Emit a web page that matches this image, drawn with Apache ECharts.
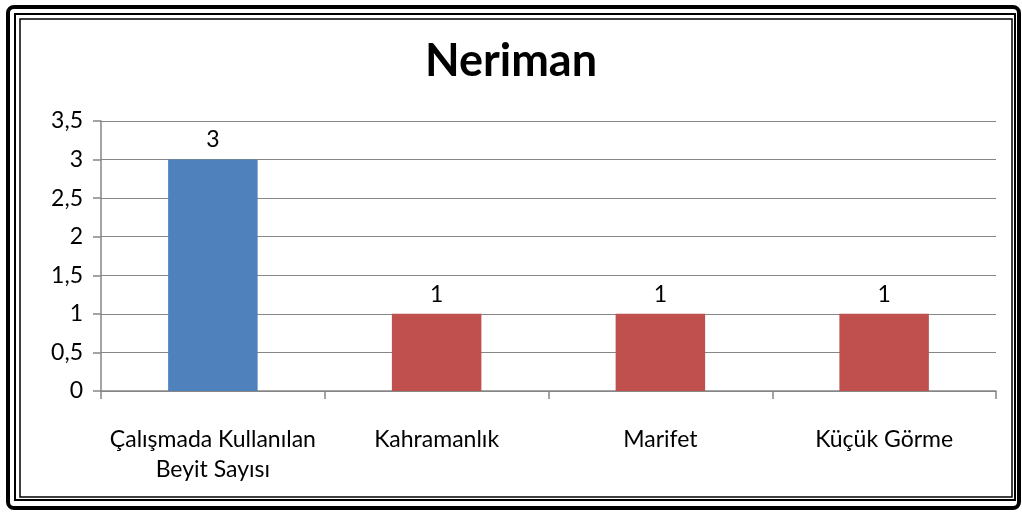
<!DOCTYPE html>
<html>
<head>
<meta charset="utf-8">
<script src="https://cdn.jsdelivr.net/npm/echarts@6/dist/echarts.min.js"></script>
<style>
	html, body { margin: 0; padding: 0; background: #fff; }
	#chart { width: 1022px; height: 513px; }
</style>
</head>
<body>
<div id="chart"></div>
<script>
	var categories = ['Çalışmada Kullanılan\nBeyit Sayısı', 'Kahramanlık', 'Marifet', 'Küçük Görme'];
	var values = [3, 1, 1, 1];
	var barColors = ['#4F81BD', '#C0504D', '#C0504D', '#C0504D'];

	var myChart = echarts.init(document.getElementById('chart'));
	var font = 'Lato, "Open Sans", sans-serif';

	var option = {
		backgroundColor: '#fff',
		animation: false,
		title: {
			text: 'Neriman',
			left: 'center',
			top: 34,
			textStyle: {
				fontFamily: font,
				fontSize: 45,
				fontWeight: 'bold',
				color: '#000'
			}
		},
		graphic: [
			{ type: 'rect', shape: { x: 8, y: 7, width: 1011, height: 501, r: 6 }, style: { fill: 'none', stroke: '#000', lineWidth: 4 } },
			{ type: 'rect', shape: { x: 15, y: 14, width: 1000, height: 486 }, style: { fill: 'none', stroke: '#000', lineWidth: 2 } },
			{ type: 'rect', shape: { x: 20, y: 19, width: 992, height: 478 }, style: { fill: 'none', stroke: '#000', lineWidth: 1.5 } }
		],
		grid: {
			left: 101,
			right: 26,
			top: 121,
			bottom: 122
		},
		xAxis: {
			type: 'category',
			data: categories,
			axisLine: { lineStyle: { color: '#868686', width: 1.5 } },
			axisTick: { show: true, interval: 0, length: 8, lineStyle: { color: '#868686', width: 1.5 } },
			axisLabel: {
				interval: 0,
				fontFamily: font,
				fontSize: 23,
				color: '#000',
				margin: 34,
				lineHeight: 30
			}
		},
		yAxis: {
			type: 'value',
			min: 0,
			max: 3.5,
			interval: 0.5,
			axisLine: { show: true, lineStyle: { color: '#868686', width: 1.5 } },
			axisTick: { show: true, length: 8, lineStyle: { color: '#868686', width: 1.5 } },
			splitLine: { lineStyle: { color: '#868686', width: 1.2 } },
			axisLabel: {
				fontFamily: font,
				fontSize: 23,
				color: '#000',
				margin: 18,
				formatter: function (v) { return String(v).replace('.', ','); }
			}
		},
		series: [{
			type: 'bar',
			barWidth: '40%',
			data: values.map(function (v, i) {
				return { value: v, itemStyle: { color: barColors[i] } };
			}),
			label: {
				show: true,
				position: 'top',
				distance: 8,
				fontFamily: font,
				fontSize: 23,
				color: '#000'
			}
		}]
	};

	myChart.setOption(option);
</script>
</body>
</html>
